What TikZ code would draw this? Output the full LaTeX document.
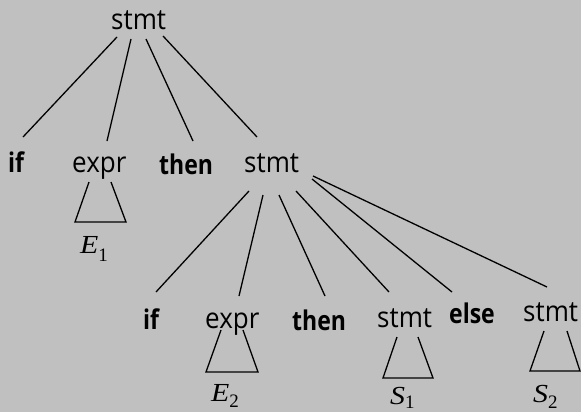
\documentclass[tikz,border=0pt]{standalone}
\usepackage{fontspec}
\setmainfont{Open Sans}
\newfontfamily\symserif{Liberation Serif}
\definecolor{bggray}{RGB}{192,192,192}
\newcommand{\tallword}[1]{\scalebox{1}[1.1]{#1}}
\newcommand{\tallkw}[1]{\scalebox{1}[1.18]{#1}}
\newcommand{\subidx}[2]{\raisebox{#1}{\upshape\fontsize{19}{19}\selectfont #2}}
\newcommand{\widesym}[1]{\scalebox{1.15}[1]{#1}}
\begin{document}
\begin{tikzpicture}[x=1pt,y=-1pt,
  lbl/.style={anchor=base west, inner sep=0pt, font=\fontsize{26}{26}\selectfont},
  kw/.style={anchor=base west, inner sep=0pt, font=\fontsize{23}{23}\selectfont\bfseries},
  sym/.style={anchor=base west, inner sep=0pt, font=\symserif\fontsize{26}{26}\selectfont\itshape},
  edge/.style={line width=1.3pt},
  tri/.style={line width=1.3pt, line join=miter}]
\fill[bggray] (0,0) rectangle (581,412);
\useasboundingbox (0,0) rectangle (581,412);
% level 1
\node[lbl] (root) at (111,30) {\tallword{stmt}};
% level 2
\node[kw]  (if1)   at (8,172)   {\tallkw{if}};
\node[lbl] (expr1) at (72,172)  {\tallword{expr}};
\node[kw]  (then1) at (159,174) {\tallkw{then}};
\node[lbl] (stmt1) at (244,172) {\tallword{stmt}};
\node[sym] (E1)    at (80,253)  {\widesym{E}\subidx{-8pt}{1}};
% level 3
\node[kw]  (if2)   at (143,329) {\tallkw{if}};
\node[lbl] (expr2) at (205,328) {\tallword{expr}};
\node[kw]  (then2) at (292,330) {\tallkw{then}};
\node[lbl] (stmt2) at (377,327) {\tallword{stmt}};
\node[kw]  (else2) at (449,323) {\tallkw{else}};
\node[lbl] (stmt3) at (523,321) {\tallword{stmt}};
\node[sym] (E2)    at (211,401) {\widesym{E}\subidx{-6pt}{2}};
\node[sym] (S1)    at (390,404) {\widesym{S}\subidx{-4pt}{1}};
\node[sym] (S2)    at (533,402) {\widesym{S}\subidx{-6pt}{2}};
% edges from root
\draw[edge] ([shift={(6,7)}]root.base west)  -- ([shift={(15,-35)}]if1.base west);
\draw[edge] ([shift={(20,9)}]root.base west) -- ([shift={(35,-31)}]expr1.base west);
\draw[edge] ([shift={(35,9)}]root.base west) -- ([shift={(34,-33)}]then1.base west);
\draw[edge] ([shift={(52,6)}]root.base west) -- ([shift={(13,-35)}]stmt1.base west);
% edges from inner stmt
\draw[edge] ([shift={(5,19)}]stmt1.base west)  -- ([shift={(13,-37)}]if2.base west);
\draw[edge] ([shift={(19,23)}]stmt1.base west) -- ([shift={(34,-32)}]expr2.base west);
\draw[edge] ([shift={(35,23)}]stmt1.base west) -- ([shift={(33,-34)}]then2.base west);
\draw[edge] ([shift={(52,19)}]stmt1.base west) -- ([shift={(12,-35)}]stmt2.base west);
\draw[edge] ([shift={(68,7)}]stmt1.base west)  -- ([shift={(3,-31)}]else2.base west);
\draw[edge] ([shift={(69,4)}]stmt1.base west)  -- ([shift={(24,-34)}]stmt3.base west);
% subtree triangles
\draw[tri] ([shift={(17,10)}]expr1.base west) -- ([shift={(3,50)}]expr1.base west) -- ([shift={(54,50)}]expr1.base west) -- ([shift={(39,10)}]expr1.base west);
\draw[tri] ([shift={(16,2)}]expr2.base west) -- ([shift={(1,44)}]expr2.base west) -- ([shift={(53,44)}]expr2.base west) -- ([shift={(38,2)}]expr2.base west);
\draw[tri] ([shift={(20,10)}]stmt2.base west) -- ([shift={(6,51)}]stmt2.base west) -- ([shift={(56,51)}]stmt2.base west) -- ([shift={(41,10)}]stmt2.base west);
\draw[tri] ([shift={(21,10)}]stmt3.base west) -- ([shift={(7,50)}]stmt3.base west) -- ([shift={(57,50)}]stmt3.base west) -- ([shift={(44,10)}]stmt3.base west);
\end{tikzpicture}
\end{document}
